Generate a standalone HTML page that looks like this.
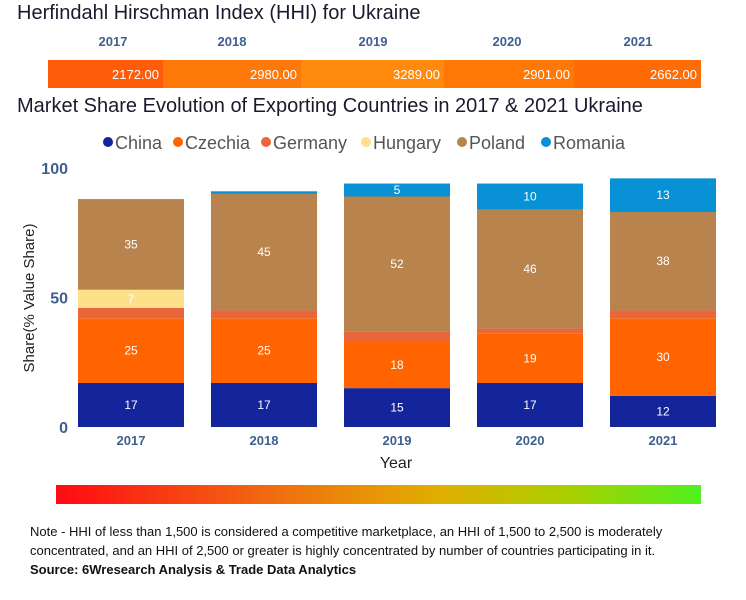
<!DOCTYPE html>
<html><head><meta charset="utf-8"><style>
body{margin:0;background:#fff;font-family:"Liberation Sans",sans-serif}
#wrap{position:relative;width:746px;height:600px;overflow:hidden}
.t{position:absolute;white-space:nowrap}
</style></head><body>
<div id="wrap">
<div class="t" style="left:17px;top:2px;font-size:20px;color:#1a1a2e">Herfindahl Hirschman Index (HHI) for Ukraine</div>
<svg id="hhi" width="746" height="95" style="position:absolute;left:0;top:0"></svg>
<div class="t" style="left:17px;top:95px;font-size:20px;color:#1a1a2e">Market Share Evolution of Exporting Countries in 2017 &amp; 2021 Ukraine</div>
<svg id="chart" width="746" height="480" style="position:absolute;left:0;top:0"></svg>
<div style="position:absolute;left:56px;top:485px;width:645px;height:19px;background:linear-gradient(90deg,#ff0a14,#f07010 35%,#e0b000 60%,#a8d000 80%,#50f020)"></div>
<div class="t" style="left:30px;top:522px;font-size:13px;line-height:19px;color:#111;white-space:normal;width:706px">Note - HHI of less than 1,500 is considered a competitive marketplace, an HHI of 1,500 to 2,500 is moderately concentrated, and an HHI of 2,500 or greater is highly concentrated by number of countries participating in it.<br><b>Source: 6Wresearch Analysis &amp; Trade Data Analytics</b></div>
</div>
<script>
const years=["2017","2018","2019","2020","2021"];
const hhi=[2172,2980,3289,2901,2662];
const series=["China","Czechia","Germany","Hungary","Poland","Romania"];
const china=[17,17,15,17,12];
const czechia=[25,25,18,19,30];
const germany=[4,3,4,2,3];
const hungary=[7,0,0,0,0];
const poland=[35,45,52,46,38];
const romania=[0,1,5,10,13];
const yTicks=[0,50,100];
const colors=["#14249a","#ff6400","#e8663a","#fce08a","#b8834c","#0891d4"];
const NS="http://www.w3.org/2000/svg";
function mk(p,tag,at,txt){const e=document.createElementNS(NS,tag);for(const k in at)e.setAttribute(k,at[k]);if(txt!==undefined)e.textContent=txt;p.appendChild(e);return e;}
const h=document.getElementById('hhi');
const hb=[48,163,301,444,574,701];
const hcol=["#ff5c0a","#ff780a","#ff8a0c","#ff7806","#ff6c06"];
years.forEach((y,i)=>{
 let r=mk(h,'rect',{x:hb[i],y:60,width:hb[i+1]-hb[i],height:28,fill:hcol[i]});
 
 
 let v=mk(h,'text',{x:hb[i+1]-4,y:79,'text-anchor':'end','font-size':13,fill:'#fff','font-family':'Liberation Sans'},hhi[i].toFixed(2));
 
 
 let t=mk(h,'text',{x:[113,232,373,507,638][i],y:46,'text-anchor':'middle','font-size':13,'font-weight':'bold',fill:'#3f5f8f','font-family':'Liberation Sans'},y);
 
 
});
const c=document.getElementById('chart');
const y0=427,y100=168;
const ys=v=>y0-(y0-y100)*v/100;
const xs=i=>78+i*133;
const bw=106;
const lx=[104,174,262,362,458,542];
series.forEach((s,i)=>{
 let g=mk(c,'g',{});
 
 
 mk(g,'circle',{cx:lx[i]+4,cy:142,r:5,fill:colors[i]});
 mk(g,'text',{x:lx[i]+11,y:149,'font-size':18,fill:'#555','font-family':'Liberation Sans'},s);
});
yTicks.forEach(t=>{
 let e=mk(c,'text',{x:68,y:ys(t)+6,'text-anchor':'end','font-size':16,'font-weight':'bold',fill:'#3f5f8f','font-family':'Liberation Sans'},t);
 
 
});
let yt=mk(c,'text',{x:0,y:0,transform:'translate(34,298) rotate(-90)','text-anchor':'middle','font-size':15,fill:'#222','font-family':'Liberation Sans'},'Share(% Value Share)');


let xt=mk(c,'text',{x:396,y:468,'text-anchor':'middle','font-size':16,fill:'#222','font-family':'Liberation Sans'},'Year');


const data=[china,czechia,germany,hungary,poland,romania];
years.forEach((y,i)=>{
 let acc=0;
 data.forEach((arr,k)=>{
  const v=arr[i]; if(!v)return;
  const top=ys(acc+v),bot=ys(acc);
  let r=mk(c,'rect',{x:xs(i),y:top,width:bw,height:bot-top,fill:colors[k]});
  
  
  if(v>=5){
   let l=mk(c,'text',{x:xs(i)+bw/2,y:(top+bot)/2+4,'text-anchor':'middle','font-size':12,fill:'#fff','font-family':'Liberation Sans'},v);
   
   
  }
  acc+=v;
 });
 let xl=mk(c,'text',{x:xs(i)+bw/2,y:445,'text-anchor':'middle','font-size':13,'font-weight':'bold',fill:'#3f5f8f','font-family':'Liberation Sans'},y);
 
 
});
</script>
</body></html>
